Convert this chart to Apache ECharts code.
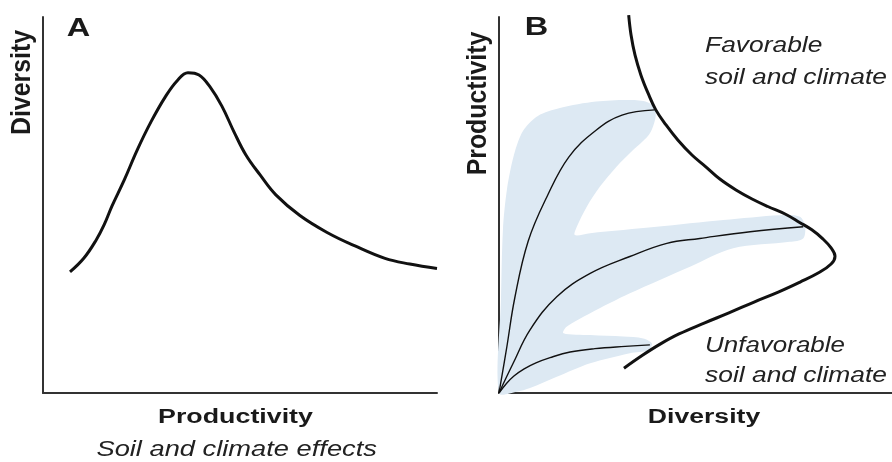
<!DOCTYPE html>
<html>
<head>
<meta charset="utf-8">
<script src="https://cdn.jsdelivr.net/npm/echarts@6/dist/echarts.min.js"></script>
<style>
html,body{margin:0;padding:0;background:#fff;}
#chart{width:892px;height:462px;}
</style>
</head>
<body>
<div id="chart"></div>
<script>
// ---------- Panel A: Diversity vs Productivity (hump-shaped) ----------
const curveA_x = [6.85, 10.4, 13.5, 15.5, 17.5, 20.6, 23.9, 27.4, 31.0, 34.0, 36.8, 39.6, 42.4, 45.4, 48.5, 51.5, 55.1, 59.1, 65.2, 72.1, 79.2, 86.8, 93.1, 100];
const curveA_y = [32.2, 35.9, 40.7, 44.7, 49.7, 56.6, 64.6, 72.1, 78.7, 83.0, 85.2, 84.6, 81.4, 76.3, 69.4, 63.3, 58.0, 52.7, 47.2, 42.7, 39.1, 35.8, 34.3, 33.1];

// ---------- Panel B: Productivity vs Diversity ----------
// thick boundary curve (x = diversity, y = productivity)
const limitX = [33.0, 33.6, 34.6, 36.1, 37.9, 39.9, 42.5, 45.5, 49.1, 52.7, 56.2, 60.3, 64.4, 68.4, 72.8, 76.6, 79.6, 82.4, 84.5, 85.5, 84.5, 81.2, 76.6, 71.2, 64.9, 58.5, 52.2, 45.8, 41.0, 36.6, 31.8];
const limitY = [100.5, 95.2, 89.9, 84.6, 79.8, 75.3, 71.3, 67.3, 63.3, 60.1, 56.9, 54.0, 51.6, 49.6, 47.6, 45.3, 43.4, 41.0, 38.6, 36.4, 34.3, 31.9, 29.5, 26.9, 24.2, 21.3, 18.6, 15.7, 13.0, 10.1, 6.6];

// thin curves from origin
const favX = [0, 2.0, 4.0, 7.4, 12.2, 17.8, 24.7, 31.3, 39.6];
const favY = [0, 12.3, 25.2, 40.3, 52.2, 62.8, 69.9, 73.9, 75.3];
const midX = [0, 3.6, 7.9, 14.7, 23.2, 33.3, 42.7, 51.1, 63.9, 77.4];
const midY = [0, 7.9, 16.8, 25.6, 31.8, 36.3, 39.8, 41.1, 42.9, 44.2];
const lowX = [0, 1.8, 3.8, 6.4, 9.4, 13.0, 18.1, 24.4, 32.1, 38.4];
const lowY = [0, 2.4, 4.5, 6.4, 8.0, 9.4, 10.9, 11.8, 12.4, 12.8];

// shaded light-blue envelope (outline points)
const blobX = [0, 0.5, 1.0, 2.0, 3.8, 6.1, 9.9, 15.5, 24.7, 34.0, 38.2, 39.9, 38.4, 34.1, 29.9, 25.7, 22.3, 19.8, 19.3, 23.2, 40.1, 57.1, 71.5, 76.6, 77.9, 77.4, 74.0, 59.6, 48.6, 33.3, 23.2, 17.2, 16.4, 23.2, 31.6, 36.7, 38.9, 38.0, 33.3, 23.2, 14.7, 7.9, 4.5];
const blobY = [0, 24.7, 43.4, 54.0, 63.3, 69.7, 73.7, 75.8, 77.5, 77.9, 77.1, 74.5, 69.1, 64.6, 60.2, 54.9, 49.5, 44.2, 42.0, 42.5, 44.2, 46.0, 47.3, 46.9, 44.2, 41.1, 40.2, 38.5, 33.6, 26.5, 21.2, 17.6, 15.9, 15.4, 15.0, 14.5, 13.2, 11.4, 10.6, 7.9, 4.3, 1.3, 0.3];

const zip = (xs, ys) => xs.map((x, i) => [x, ys[i]]);

const FONT = '"Liberation Sans", Arial, Helvetica, sans-serif';
const INK = '#1a1a1a';
function label(text, x, y, o) {
  return {
    type: 'text', x: x, y: y, silent: true,
    rotation: o.rot || 0, scaleX: o.sx || 1, scaleY: o.sy || 1,
    style: {
      text: text, fontFamily: FONT, fontSize: o.size,
      fontWeight: o.weight || 'normal', fontStyle: o.italic ? 'italic' : 'normal',
      fill: o.fill || INK, align: o.align || 'center', verticalAlign: 'middle'
    }
  };
}

const axisCommon = {
  type: 'value', min: 0, max: 100,
  axisLine: { show: true, onZero: false, lineStyle: { color: '#333', width: 2 } },
  axisTick: { show: false }, axisLabel: { show: false }, splitLine: { show: false }
};

const chart = echarts.init(document.getElementById('chart'), null, { renderer: 'canvas' });
chart.setOption({
  animation: false,
  backgroundColor: '#fff',
  grid: [
    { left: 43, top: 17, width: 394, height: 376 },
    { left: 499, top: 17, width: 393, height: 376 }
  ],
  xAxis: [
    Object.assign({ gridIndex: 0 }, axisCommon),
    Object.assign({ gridIndex: 1 }, axisCommon)
  ],
  yAxis: [
    Object.assign({ gridIndex: 0 }, axisCommon),
    Object.assign({ gridIndex: 1 }, axisCommon)
  ],
  series: [
    {
      type: 'line', xAxisIndex: 0, yAxisIndex: 0, data: zip(curveA_x, curveA_y),
      smooth: 0.4, showSymbol: false, silent: true,
      lineStyle: { color: '#111', width: 3 }, z: 3
    },
    {
      type: 'custom', xAxisIndex: 1, yAxisIndex: 1, data: zip(blobX, blobY), silent: true, z: 1,
      renderItem: function (params, api) {
        if (params.dataIndex !== 0) return null;
        const pts = blobX.map((x, i) => api.coord([x, blobY[i]]));
        return { type: 'polygon', shape: { points: pts, smooth: 0.3 }, style: { fill: '#dde9f3', stroke: null } };
      }
    },
    {
      type: 'line', xAxisIndex: 1, yAxisIndex: 1, data: zip(favX, favY),
      smooth: 0.4, showSymbol: false, silent: true, lineStyle: { color: '#111', width: 1.4 }, z: 3
    },
    {
      type: 'line', xAxisIndex: 1, yAxisIndex: 1, data: zip(midX, midY),
      smooth: 0.4, showSymbol: false, silent: true, lineStyle: { color: '#111', width: 1.4 }, z: 3
    },
    {
      type: 'line', xAxisIndex: 1, yAxisIndex: 1, data: zip(lowX, lowY),
      smooth: 0.4, showSymbol: false, silent: true, lineStyle: { color: '#111', width: 1.4 }, z: 3
    },
    {
      type: 'line', xAxisIndex: 1, yAxisIndex: 1, data: zip(limitX, limitY),
      smooth: 0.4, showSymbol: false, silent: true, clip: false,
      lineStyle: { color: '#111', width: 3 }, z: 4
    }
  ],
  graphic: [
    label('A', 78.5, 29.3, { size: 25, weight: 'bold', sx: 1.3 }),
    label('B', 536.5, 28.3, { size: 25, weight: 'bold', sx: 1.3 }),
    label('Diversity', 22.7, 82.5, { size: 22, weight: 'bold', rot: Math.PI / 2, sx: 1.13, sy: 1.25 }),
    label('Productivity', 478.7, 103.5, { size: 22, weight: 'bold', rot: Math.PI / 2, sx: 1.13, sy: 1.25 }),
    label('Productivity', 235.5, 417, { size: 20, weight: 'bold', sx: 1.34 }),
    label('Soil and climate effects', 236.7, 449.8, { size: 22, italic: true, sx: 1.24, fill: '#222' }),
    label('Diversity', 704, 417, { size: 20, weight: 'bold', sx: 1.33 }),
    label('Favorable', 705, 45.6, { size: 22, italic: true, sx: 1.2, align: 'left', fill: '#222' }),
    label('soil and climate', 705, 78.3, { size: 22, italic: true, sx: 1.2, align: 'left', fill: '#222' }),
    label('Unfavorable', 705, 345.6, { size: 22, italic: true, sx: 1.18, align: 'left', fill: '#222' }),
    label('soil and climate', 705, 375.6, { size: 22, italic: true, sx: 1.2, align: 'left', fill: '#222' })
  ]
});
</script>
</body>
</html>
